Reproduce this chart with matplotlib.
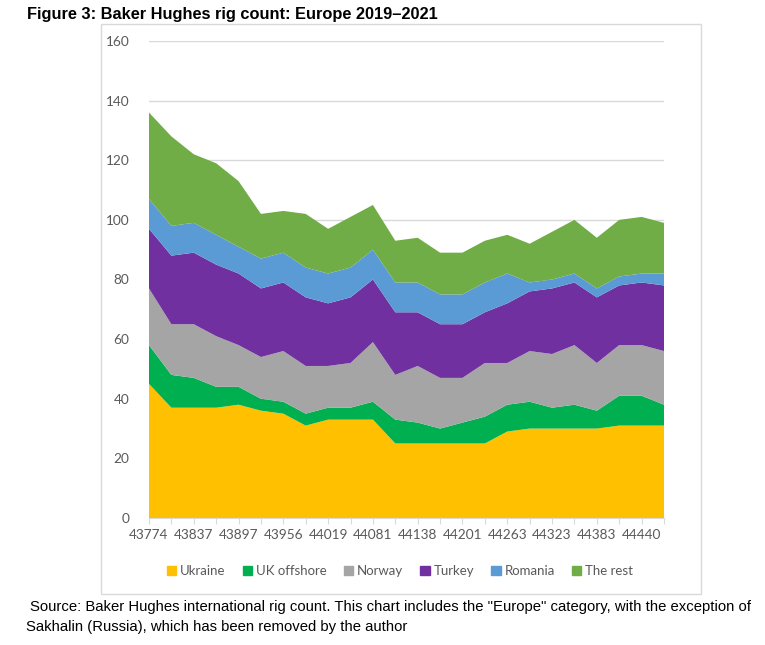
import matplotlib.pyplot as plt
import matplotlib.patches as mpatches
import numpy as np

# monthly Baker Hughes rig counts, Europe (Nov 2019 - Oct 2021)
tick_labels = ["43774", "43837", "43897", "43956", "44019", "44081",
               "44138", "44201", "44263", "44323", "44383", "44440"]

ukraine     = [45, 37, 37, 37, 38, 36, 35, 31, 33, 33, 33, 25, 25, 25, 25, 25, 29, 30, 30, 30, 30, 31, 31, 31]
uk_offshore = [13, 11, 10, 7, 6, 4, 4, 4, 4, 4, 6, 8, 7, 5, 7, 9, 9, 9, 7, 8, 6, 10, 10, 7]
norway      = [19, 17, 18, 17, 14, 14, 17, 16, 14, 15, 20, 15, 19, 17, 15, 18, 14, 17, 18, 20, 16, 17, 17, 18]
turkey      = [20, 23, 24, 24, 24, 23, 23, 23, 21, 22, 21, 21, 18, 18, 18, 17, 20, 20, 22, 21, 22, 20, 21, 22]
romania     = [10, 10, 10, 10, 9, 10, 10, 10, 10, 10, 10, 10, 10, 10, 10, 10, 10, 3, 3, 3, 3, 3, 3, 4]
the_rest    = [29, 30, 23, 24, 22, 15, 14, 18, 15, 17, 15, 14, 15, 14, 14, 14, 13, 13, 16, 18, 17, 19, 19, 17]

names = ["Ukraine", "UK offshore", "Norway", "Turkey", "Romania", "The rest"]
colors = ["#FFC000", "#00B050", "#A5A5A5", "#7030A0", "#5B9BD5", "#70AD47"]

W, H = 765, 645
fig = plt.figure(figsize=(W / 100, H / 100), dpi=100)
ax = fig.add_axes([149 / W, 1 - 518 / H, (664 - 149) / W, (518 - 41) / H])

x = np.arange(len(ukraine))
ax.stackplot(x, ukraine, uk_offshore, norway, turkey, romania, the_rest,
             colors=colors, labels=names, linewidth=0, zorder=2)

ax.set_xlim(0, len(x) - 1)
ax.set_ylim(0, 160)
ax.set_yticks(range(0, 161, 20))
ax.set_xticks(x)
lbls = []
for i in x:
    lbls.append(tick_labels[i // 2] if i % 2 == 0 else "")
ax.set_xticklabels(lbls)

ax.grid(axis="y", color="#d9d9d9", linewidth=1, zorder=0)
ax.set_axisbelow(True)
for s in ["top", "right", "left"]:
    ax.spines[s].set_visible(False)
ax.spines["bottom"].set_color("#d9d9d9")
ax.tick_params(axis="y", length=0, pad=14, labelsize=9.8, labelcolor="#595959")
ax.tick_params(axis="x", length=4, color="#d9d9d9", pad=4, labelsize=9.8, labelcolor="#595959")
for t in ax.get_xticklabels() + ax.get_yticklabels():
    t.set_fontfamily("Lato")

handles = [mpatches.Patch(color=c, label=n) for c, n in zip(colors, names)]
fig.legend(handles=handles, loc="center", bbox_to_anchor=(400 / W, 1 - 571 / H), ncol=6,
           frameon=False, handlelength=0.7, handleheight=0.7, handletextpad=0.3,
           columnspacing=1.3, prop={"family": "Lato", "size": 9.5}, labelcolor="#595959")

# chart border
fig.patches.append(mpatches.Rectangle((101 / W, 1 - 594 / H), 600 / W, 570 / H,
                                      transform=fig.transFigure, fill=False,
                                      edgecolor="#d9d9d9", linewidth=1))

fig.text(27 / W, 1 - 14 / H, "Figure 3: Baker Hughes rig count: Europe 2019\u20132021",
         fontsize=11.8, fontweight="bold", family="Liberation Sans", va="center")
fig.text(30 / W, 1 - 607 / H,
         'Source: Baker Hughes international rig count. This chart includes the "Europe" category, with the exception of',
         fontsize=10.7, family="Liberation Sans", va="center")
fig.text(26 / W, 1 - 627 / H, "Sakhalin (Russia), which has been removed by the author",
         fontsize=10.7, family="Liberation Sans", va="center")

plt.savefig("out.png", dpi=100)
